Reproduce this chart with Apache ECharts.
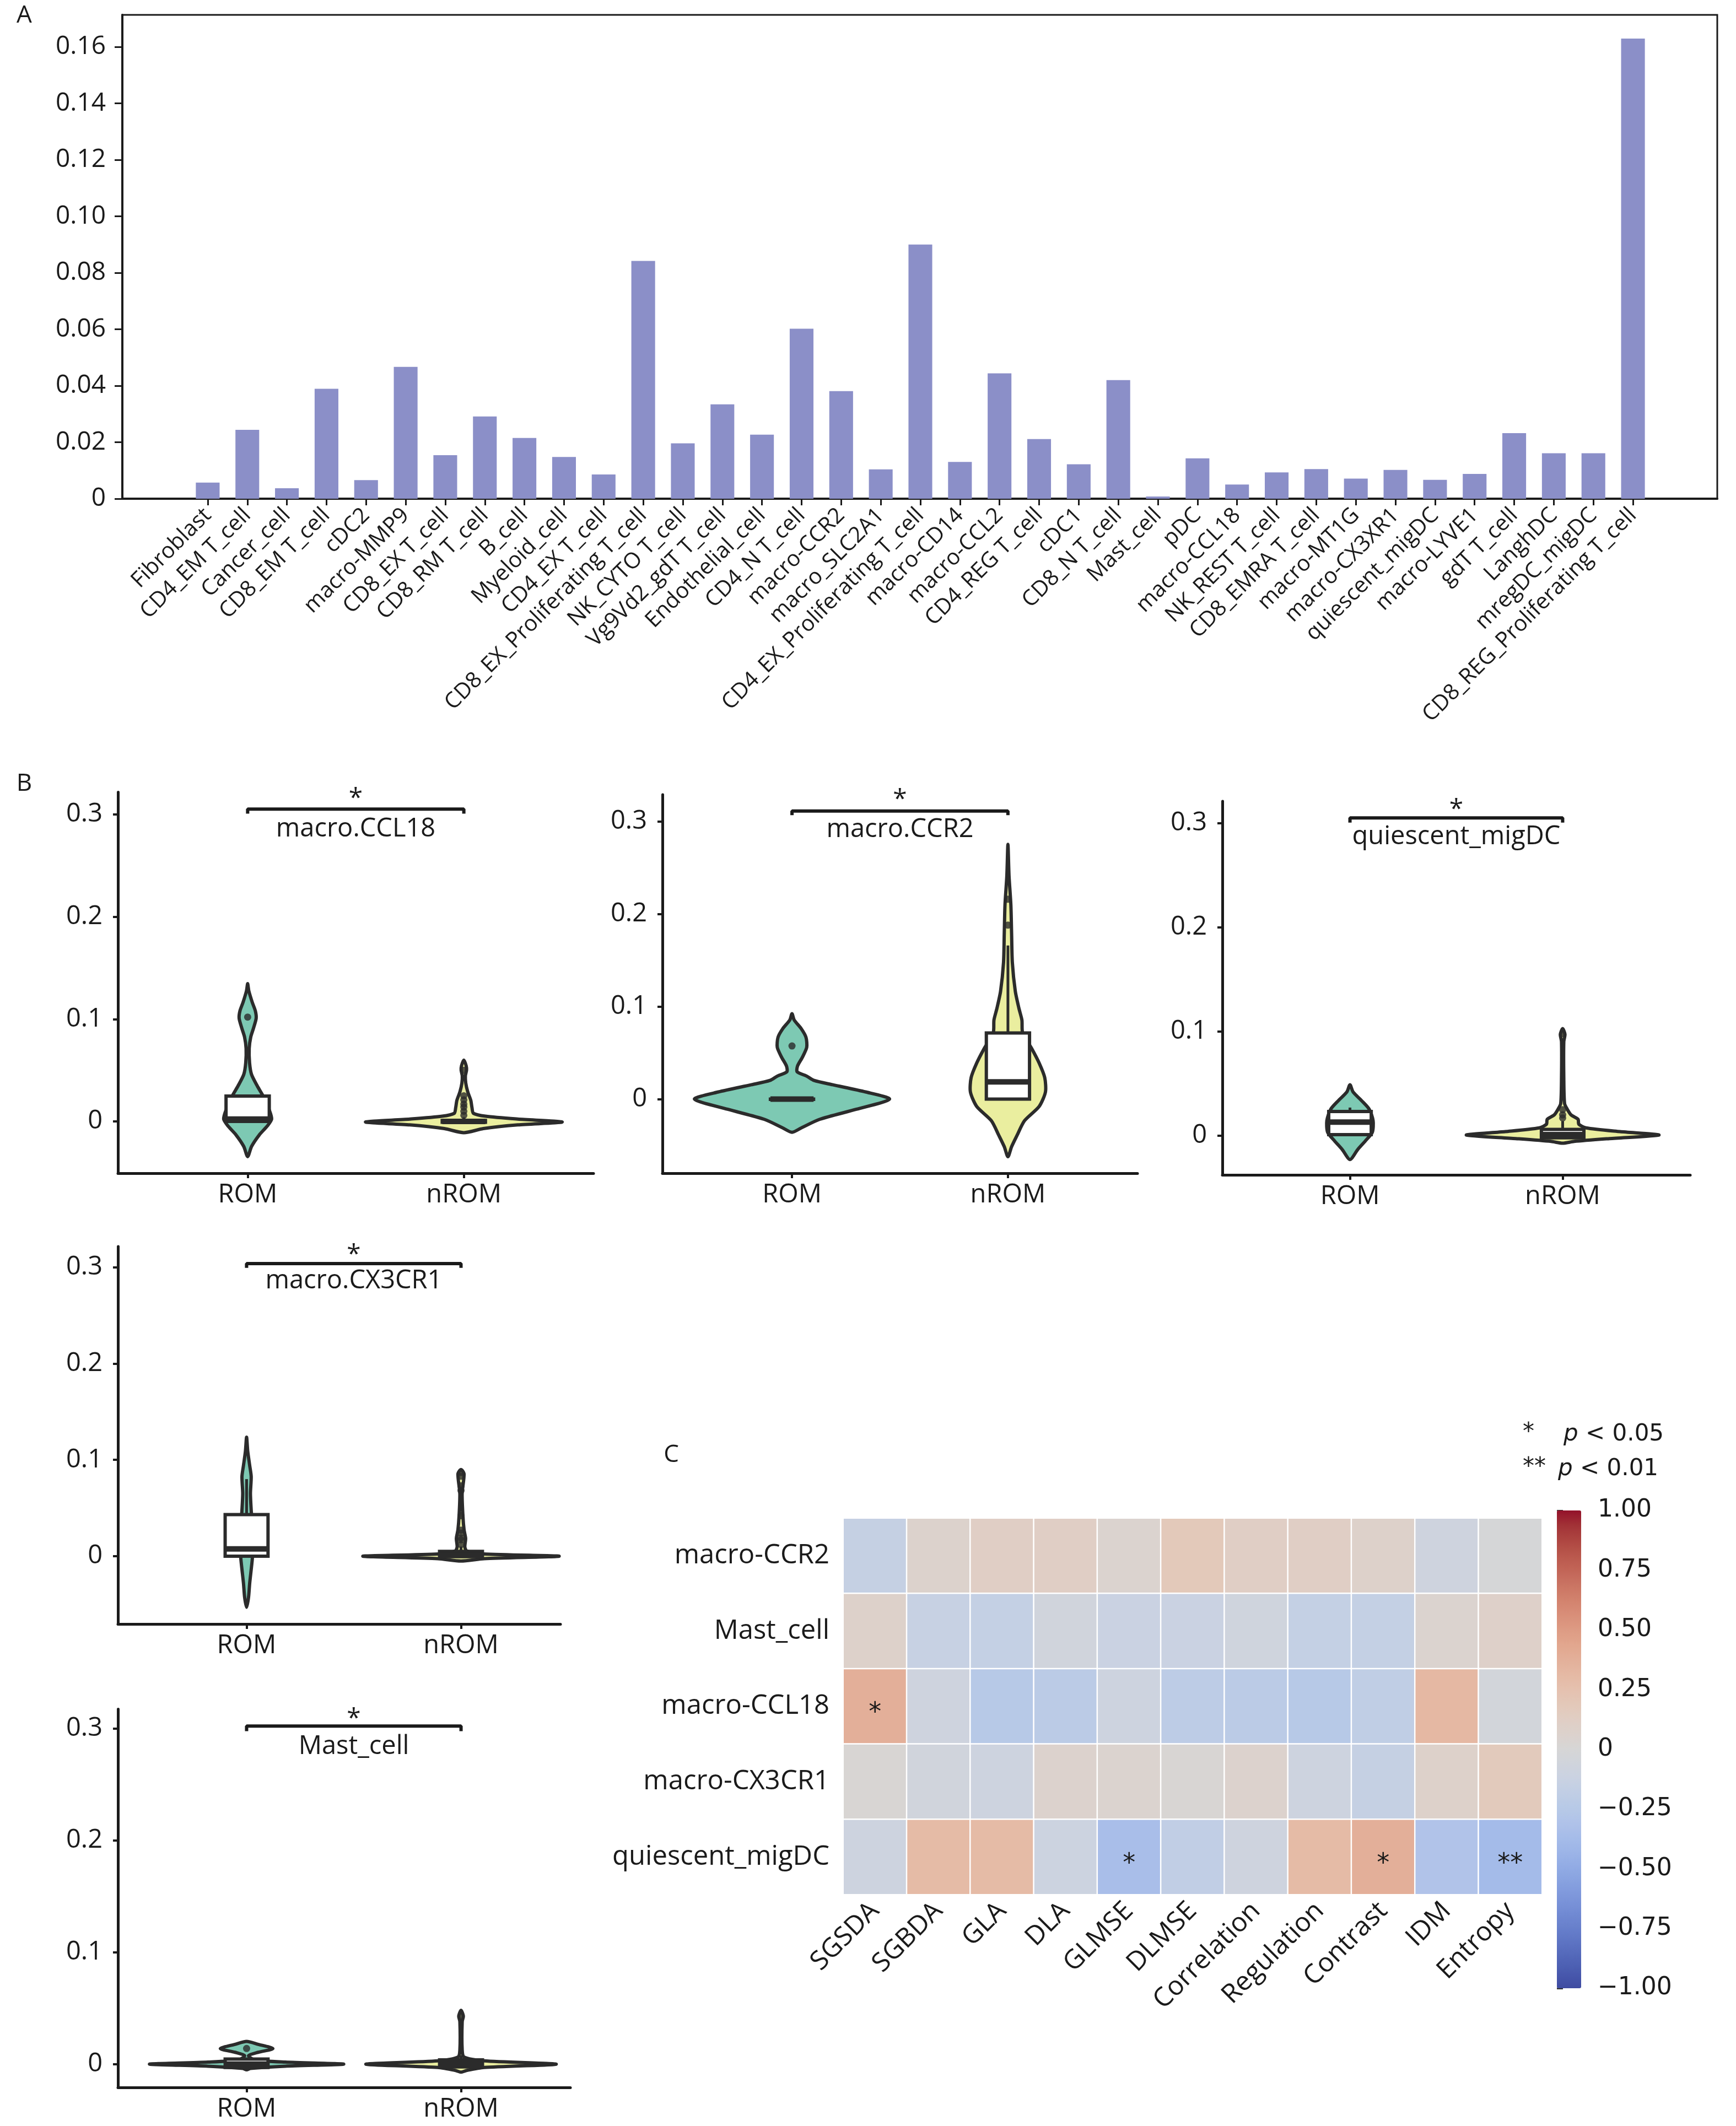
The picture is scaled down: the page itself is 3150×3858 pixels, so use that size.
<!DOCTYPE html>
<html><head><meta charset="utf-8">
<script src="https://cdn.jsdelivr.net/npm/echarts@6/dist/echarts.min.js"></script>
<style>html,body{margin:0;padding:0;background:#fff}#c{width:3150px;height:3858px}</style>
</head><body><div id="c"></div>
<script>
// ---------- Panel A data ----------
const cellTypes = ['Fibroblast','CD4_EM T_cell','Cancer_cell','CD8_EM T_cell','cDC2','macro-MMP9','CD8_EX T_cell','CD8_RM T_cell','B_cell','Myeloid_cell','CD4_EX T_cell','CD8_EX_Proliferating T_cell','NK_CYTO T_cell','Vg9Vd2_gdT T_cell','Endothelial_cell','CD4_N T_cell','macro-CCR2','macro_SLC2A1','CD4_EX_Proliferating T_cell','macro-CD14','macro-CCL2','CD4_REG T_cell','cDC1','CD8_N T_cell','Mast_cell','pDC','macro-CCL18','NK_REST T_cell','CD8_EMRA T_cell','macro-MT1G','macro-CX3XR1','quiescent_migDC','macro-LYVE1','gdT T_cell','LanghDC','mregDC_migDC','CD8_REG_Proliferating T_cell'];
const proportion = [0.0057,0.0244,0.0037,0.0389,0.0066,0.0467,0.0154,0.0291,0.0215,0.0148,0.0086,0.0842,0.0196,0.0334,0.0227,0.0602,0.0381,0.0104,0.0900,0.0130,0.0444,0.0211,0.0122,0.0420,0.0008,0.0143,0.0050,0.0093,0.0105,0.0071,0.0102,0.0067,0.0088,0.0232,0.0161,0.0161,0.1629];
const yTicksA = [0,0.02,0.04,0.06,0.08,0.10,0.12,0.14,0.16];

// ---------- Panel B data ----------
const groups = ['ROM','nROM'];
const panelNames = ['macro.CCL18','macro.CCR2','quiescent_migDC','macro.CX3CR1','Mast_cell'];
// violin outlines: [value, half-width in group units], top to bottom
const violinROM = [
 [[0.1346,0],[0.1276,0.0054],[0.1163,0.0215],[0.1079,0.0358],[0.1008,0.0394],[0.0910,0.0268],[0.0825,0.0143],[0.0713,0.0072],[0.0572,0.0089],[0.0459,0.0179],[0.0346,0.0447],[0.0234,0.0752],[0.0121,0.0984],[0.0023,0.111],[-0.0048,0.0895],[-0.0132,0.0537],[-0.0245,0.0179],[-0.0344,0]],
 [[0.0924,0],[0.0855,0.0102],[0.0762,0.0426],[0.0669,0.0647],[0.0560,0.0682],[0.0451,0.0477],[0.0358,0.0256],[0.0295,0.0239],[0.0249,0.0682],[0.0202,0.1022],[0.0156,0.1874],[0.0078,0.3408],[0,0.4515],[-0.0109,0.2982],[-0.0218,0.1278],[-0.0311,0.0426],[-0.0358,0]],
 [[0.0489,0],[0.0420,0.0145],[0.0337,0.0544],[0.0254,0.0906],[0.0144,0.1088],[0.0033,0.1051],[-0.0050,0.0725],[-0.0133,0.0363],[-0.0229,0]],
 [[0.1235,0],[0.1089,0.0054],[0.0943,0.0144],[0.0826,0.0216],[0.0651,0.018],[0.0476,0.0216],[0.0359,0.0252],[0.0213,0.027],[0.0067,0.027],[-0.0020,0.027],[-0.0137,0.0216],[-0.0283,0.0144],[-0.0429,0.009],[-0.0531,0]],
 [[0.0203,0],[0.0177,0.0541],[0.0139,0.1226],[0.0106,0.0541],[0.0076,0.009],[0.0038,0.0361],[0.0018,0.18],[0,0.453],[-0.0018,0.18],[-0.0038,0.018],[-0.0051,0]]
];
const violinNROM = [
 [[0.0600,0],[0.0544,0.0107],[0.0501,0.0125],[0.0445,0.0072],[0.0375,0.0089],[0.0290,0.0179],[0.0206,0.0322],[0.0135,0.0376],[0.0079,0.0447],[0.0051,0.1],[0.0023,0.25],[-0.0006,0.455],[-0.0034,0.25],[-0.0070,0.09],[-0.011,0]],
 [[0.2753,0],[0.2411,0.0051],[0.2100,0.0136],[0.1788,0.017],[0.1477,0.0204],[0.1166,0.0341],[0.0980,0.0511],[0.0855,0.0647],[0.0715,0.0681],[0.0544,0.1107],[0.0389,0.1448],[0.0233,0.1704],[0.0078,0.1738],[-0.0078,0.1448],[-0.0233,0.0767],[-0.0389,0.0426],[-0.0513,0.017],[-0.0622,0]],
 [[0.1028,0],[0.0972,0.0109],[0.0903,0.0054],[0.0558,0.0054],[0.0309,0.0091],[0.0254,0.0218],[0.0199,0.0399],[0.0157,0.0725],[0.0110,0.0762],[0.0075,0.11],[0.0039,0.27],[0.0006,0.453],[-0.0028,0.22],[-0.0055,0.0544],[-0.0072,0]],
 [[0.0899,0],[0.0855,0.0144],[0.0651,0.0054],[0.0418,0.009],[0.0272,0.0144],[0.0184,0.0216],[0.0096,0.018],[0.0053,0.027],[0.0023,0.108],[0,0.458],[-0.0026,0.108],[-0.005,0]],
 [[0.0481,0],[0.0430,0.0108],[0.0380,0.0054],[0.0127,0.0054],[0.0063,0.0144],[0.0030,0.108],[0,0.444],[-0.0030,0.108],[-0.0056,0.027],[-0.0071,0]]
];
// box: [whiskerLow, Q1, median, Q3, whiskerHigh]
const boxROM = [[0,0,0.0023,0.0248,0.026],[0,0,0,0,0],[0.001,0.001,0.013,0.0232,0.027],[0,0,0.0076,0.0432,0.08],[-0.003,-0.003,0,0.0046,0.0046]];
const boxNROM = [[-0.0008,-0.0008,0,0.001,0.004],[0,0,0.0187,0.0715,0.166],[-0.002,-0.002,0.001,0.006,0.014],[-0.0005,-0.0005,0.001,0.005,0.01],[-0.0025,-0.0025,0,0.0038,0.008]];
const outROM = [[0.102],[0.0575],[],[],[0.014]];
const outNROM = [[0.006,0.01,0.014,0.017,0.021,0.025,0.05],[0.188,0.216],[0.017,0.02,0.025,0.098],[0.012,0.017,0.019,0.024,0.027,0.042,0.068,0.073,0.083,0.087],[0.042]];
const yRangeB = [[-0.0506,0.3218],[-0.080,0.329],[-0.0376,0.321],[-0.0704,0.3215],[-0.0208,0.3173]];
const xMaxB = [2.6,2.6,2.6,2.464,2.51];
const bracketY = [0.3053,0.3113,0.305,0.3038,0.3021];
const titleY = [0.2854,0.2911,0.2868,0.2855,0.2838];
const starY = [0.315,0.3229,0.3127,0.3124,0.3082];
const yTicksB = [0,0.1,0.2,0.3];

// ---------- Panel C data ----------
const features = ['SGSDA','SGBDA','GLA','DLA','GLMSE','DLMSE','Correlation','Regulation','Contrast','IDM','Entropy'];
const heatRows = ['macro-CCR2','Mast_cell','macro-CCL18','macro-CX3CR1','quiescent_migDC'];
const corr = [
 [-0.15,0.07,0.12,0.12,0.05,0.18,0.12,0.12,0.08,-0.08,-0.01],
 [0.08,-0.14,-0.16,-0.06,-0.12,-0.12,-0.07,-0.16,-0.16,0.05,0.09],
 [0.38,-0.08,-0.25,-0.22,-0.09,-0.21,-0.22,-0.25,-0.19,0.32,-0.04],
 [0.02,-0.06,-0.09,0.06,0.05,0.02,0.06,-0.09,-0.15,0.08,0.17],
 [-0.09,0.30,0.30,-0.10,-0.35,-0.18,-0.08,0.30,0.38,-0.30,-0.38]
];
const stars = [
 ['','','','','','','','','','',''],
 ['','','','','','','','','','',''],
 ['*','','','','','','','','','',''],
 ['','','','','','','','','','',''],
 ['','','','','*','','','','*','','**']
];
const cbTicks = [-1,-0.75,-0.5,-0.25,0,0.25,0.5,0.75,1];

// ---------- styles ----------
const F = 'Open Sans';
const INK = '#1a1a1a';
const EDGE = '#2b2b2b';
const violinFill = ['#7dc9b3','#eaee9f'];
const coolwarmBase = ['#3b4cc0','#445acc','#4d68d7','#5775e1','#6282ea','#6c8ef1','#779af7','#82a5fb','#8db0fe','#98b9ff','#a3c2ff','#aec9fd','#b8d0f9','#c2d5f4','#ccd9ee','#d5dbe6','#dddddd','#e5d8d1','#ecd3c5','#f1ccb8','#f5c4ac','#f7bb9f','#f7b193','#f7a686','#f49a7b','#f18d6f','#ec7f63','#e57058','#de604d','#d55042','#cb3e38','#c0282f','#b40426'];
function muted(hex){
  const r=parseInt(hex.slice(1,3),16), g=parseInt(hex.slice(3,5),16), b=parseInt(hex.slice(5,7),16);
  const l = 0.3*r+0.59*g+0.11*b, k=0.76, d=0.97;
  const f=c=>Math.max(0,Math.min(255,Math.round((c*k+l*(1-k))*d)));
  return 'rgb('+f(r)+','+f(g)+','+f(b)+')';
}
const coolwarm = coolwarmBase.map(muted);

const grids = [], xAxes = [], yAxes = [], series = [];

// Panel A frame
grids.push({left:222, top:27, width:2894, height:878, show:true, borderColor:INK, borderWidth:3});
xAxes.push({gridIndex:0, type:'value', min:0, max:1, axisLine:{show:true, onZero:false, lineStyle:{color:INK, width:4}}, axisTick:{show:false}, axisLabel:{show:false}, splitLine:{show:false}});
yAxes.push({gridIndex:0, type:'value', min:0, max:0.1713,
  axisLine:{show:true, onZero:false, lineStyle:{color:INK, width:4}},
  axisTick:{show:true, customValues:yTicksA, length:14, lineStyle:{width:3, color:INK}},
  axisLabel:{customValues:yTicksA, formatter:v=> v===0?'0':v.toFixed(2), fontFamily:F, fontSize:46, color:INK, margin:30},
  splitLine:{show:false}});
// Panel A bars
grids.push({left:341, top:27, width:2658, height:878});
xAxes.push({gridIndex:1, type:'category', data:cellTypes, axisLine:{show:false},
  axisTick:{show:true, alignWithLabel:true, length:12, lineStyle:{width:3, color:INK}},
  axisLabel:{interval:0, rotate:45, fontFamily:F, fontSize:40, color:INK, margin:24}});
yAxes.push({gridIndex:1, type:'value', min:0, max:0.1713, show:false, splitLine:{show:false}});
series.push({type:'bar', xAxisIndex:1, yAxisIndex:1, data:proportion, barWidth:'60%', itemStyle:{color:'#8b8fc8'}});

// Panel B
const bGrid = [
  {left:214, top:1437.5, width:863, height:691.5},
  {left:1202, top:1442, width:862, height:687},
  {left:2218, top:1454, width:849, height:678},
  {left:214, top:2262, width:803, height:685},
  {left:214, top:3101.5, width:821, height:686.5}
];
function violinRender(p){
  return function(params, api){
    const i = params.dataIndex;
    const x = api.value(0);
    const prof = i===0 ? violinROM[p] : violinNROM[p];
    const right = prof.map(d=>api.coord([x + d[1], d[0]]));
    const left = prof.map(d=>api.coord([x - d[1], d[0]]));
    const pts = right.concat(left.slice(1,-1).reverse());
    return {type:'polygon', shape:{points:pts, smooth:0.25},
      style:{fill:violinFill[i], stroke:EDGE, lineWidth:6, lineJoin:'round'}};
  };
}
function boxRender(p){
  return function(params, api){
    const i = params.dataIndex;
    const x = api.value(0);
    const b = i===0 ? boxROM[p] : boxNROM[p];
    const w = 0.1;
    const tl = api.coord([x-w, b[3]]), br = api.coord([x+w, b[1]]);
    const cx = api.coord([x, 0])[0];
    const yl = api.coord([x, b[0]])[1], yq1 = br[1], yq3 = tl[1], yh = api.coord([x, b[4]])[1], ym = api.coord([x, b[2]])[1];
    return {type:'group', children:[
      {type:'line', shape:{x1:cx, y1:yh, x2:cx, y2:yq3}, style:{stroke:EDGE, lineWidth:5}},
      {type:'line', shape:{x1:cx, y1:yq1, x2:cx, y2:yl}, style:{stroke:EDGE, lineWidth:5}},
      {type:'rect', shape:{x:tl[0], y:tl[1], width:br[0]-tl[0], height:Math.max(br[1]-tl[1],0.5)}, style:{fill:'#fff', stroke:EDGE, lineWidth:6}},
      {type:'line', shape:{x1:tl[0], y1:ym, x2:br[0], y2:ym}, style:{stroke:EDGE, lineWidth:10}}
    ]};
  };
}
function annotRender(p){
  return function(params, api){
    const pos = api.coord([api.value(0), api.value(1)]);
    const isStar = params.dataIndex===0;
    return {type:'text', x:pos[0], y:pos[1],
      style:{text: isStar ? '*' : panelNames[p], fill:INK, fontFamily:F, fontSize: isStar ? 46 : 47,
        align:'center', verticalAlign:'middle'}};
  };
}
for (let p=0; p<5; p++){
  const gi = 2+p;
  grids.push(bGrid[p]);
  xAxes.push({gridIndex:gi, type:'value', min:0.4, max:xMaxB[p],
    axisLine:{show:true, onZero:false, lineStyle:{color:INK, width:5}},
    axisTick:{show:true, customValues:[1,2], length:9, lineStyle:{color:INK, width:4}},
    axisLabel:{customValues:[1,2], formatter:v=>groups[Math.round(v)-1], fontFamily:F, fontSize:47, color:INK, margin:16},
    splitLine:{show:false}});
  yAxes.push({gridIndex:gi, type:'value', min:yRangeB[p][0], max:yRangeB[p][1],
    axisLine:{show:true, onZero:false, lineStyle:{color:INK, width:5}},
    axisTick:{show:true, customValues:yTicksB, length:9, lineStyle:{color:INK, width:4}},
    axisLabel:{customValues:yTicksB, formatter:v=> v===0?'0':String(Math.round(v*10)/10), fontFamily:F, fontSize:47, color:INK, margin:28},
    splitLine:{show:false}});
  series.push({type:'custom', xAxisIndex:gi, yAxisIndex:gi, clip:false, renderItem:violinRender(p), data:[[1,0],[2,0]], encode:{x:0,y:1}, silent:true});
  series.push({type:'custom', xAxisIndex:gi, yAxisIndex:gi, clip:false, renderItem:boxRender(p), data:[[1,0],[2,0]], encode:{x:0,y:1}, silent:true});
  const outs = outROM[p].map(v=>[1,v]).concat(outNROM[p].map(v=>[2,v]));
  series.push({type:'scatter', xAxisIndex:gi, yAxisIndex:gi, clip:false, symbolSize:13, itemStyle:{color:EDGE}, data:outs, silent:true});
  const b = bracketY[p];
  series.push({type:'line', xAxisIndex:gi, yAxisIndex:gi, clip:false, symbol:'none', lineStyle:{color:INK, width:6},
    data:[[1,b-0.0045],[1,b],[2,b],[2,b-0.0045]], silent:true});
  series.push({type:'custom', xAxisIndex:gi, yAxisIndex:gi, clip:false, renderItem:annotRender(p),
    data:[[1.5, starY[p]],[1.5, titleY[p]]], encode:{x:0,y:1}, silent:true});
}

// Panel C heatmap
grids.push({left:1530, top:2755, width:1268, height:683});
xAxes.push({gridIndex:7, type:'category', data:features, axisLine:{show:false}, axisTick:{show:false},
  axisLabel:{interval:0, rotate:45, fontFamily:F, fontSize:48, color:INK, margin:22}, splitLine:{show:false}});
yAxes.push({gridIndex:7, type:'category', data:heatRows, inverse:true, axisLine:{show:false}, axisTick:{show:false},
  axisLabel:{fontFamily:F, fontSize:49, color:INK, margin:25}, splitLine:{show:false}});
const heatData = [];
for (let r=0; r<heatRows.length; r++) for (let c=0; c<features.length; c++) heatData.push([c, r, corr[r][c]]);
const heatIdx = series.length;
series.push({type:'heatmap', xAxisIndex:7, yAxisIndex:7, data:heatData,
  itemStyle:{borderColor:'#ffffff', borderWidth:2.5},
  label:{show:true, formatter:p=>stars[p.value[1]][p.value[0]], fontFamily:'DejaVu Sans', fontSize:46, color:INK, offset:[0,13], textBorderWidth:0},
  emphasis:{disabled:true}, silent:true});

// Colorbar axis
grids.push({left:2825, top:2741, width:44, height:867});
xAxes.push({gridIndex:8, type:'value', min:0, max:1, show:false});
yAxes.push({gridIndex:8, type:'value', min:-1, max:1, interval:0.25, position:'right',
  axisLine:{show:false},
  axisTick:{show:true, length:11, lineStyle:{color:'#333', width:3}},
  axisLabel:{formatter:v=> Math.abs(v)<1e-9 ? '0' : (v<0 ? '\u2212'+Math.abs(v).toFixed(2) : v.toFixed(2)), fontFamily:'DejaVu Sans', fontSize:44, color:INK, margin:30},
  splitLine:{show:false}});

const option = {
  animation:false,
  backgroundColor:'#ffffff',
  grid:grids, xAxis:xAxes, yAxis:yAxes, series:series,
  visualMap:{type:'continuous', min:-1, max:1, seriesIndex:heatIdx, calculable:false, show:true, orient:'vertical',
    left:2825, top:2741, itemWidth:44, itemHeight:867, padding:0, inRange:{color:coolwarm}, hoverLink:false},
  graphic:[
    {type:'text', x:44, y:28, style:{text:'A', fontFamily:F, fontSize:44, fill:INK, align:'center', verticalAlign:'middle'}},
    {type:'text', x:44, y:1422, style:{text:'B', fontFamily:F, fontSize:44, fill:INK, align:'center', verticalAlign:'middle'}},
    {type:'text', x:1218, y:2640, style:{text:'C', fontFamily:F, fontSize:44, fill:INK, align:'center', verticalAlign:'middle'}},
    {type:'text', x:2763, y:2600, style:{text:'*', fontFamily:'DejaVu Sans', fontSize:42, fill:INK, align:'left', verticalAlign:'middle'}},
    {type:'text', x:2837, y:2603, style:{text:'{i|p} < 0.05', fontFamily:'DejaVu Sans', fontSize:42, fill:INK, align:'left', verticalAlign:'middle',
      rich:{i:{fontStyle:'italic', fontFamily:'DejaVu Sans', fontSize:42, fill:INK}}}},
    {type:'text', x:2763, y:2663, style:{text:'**', fontFamily:'DejaVu Sans', fontSize:42, fill:INK, align:'left', verticalAlign:'middle'}},
    {type:'text', x:2827, y:2666, style:{text:'{i|p} < 0.01', fontFamily:'DejaVu Sans', fontSize:42, fill:INK, align:'left', verticalAlign:'middle',
      rich:{i:{fontStyle:'italic', fontFamily:'DejaVu Sans', fontSize:42, fill:INK}}}}
  ]
};
const chart = echarts.init(document.getElementById('c'), null, {renderer:'canvas'});
chart.setOption(option);
</script>
</body></html>
